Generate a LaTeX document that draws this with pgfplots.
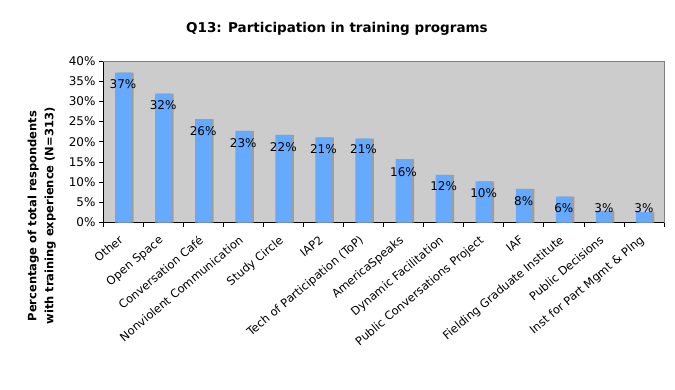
\documentclass[border=0pt]{standalone}
\usepackage{fontspec}
\setmainfont{DejaVu Sans}
\usepackage{pgfplots}
\pgfplotsset{compat=1.18}
\usepackage{pgfplotstable}

\definecolor{barblue}{RGB}{102,170,255}
\definecolor{plotbg}{RGB}{204,204,204}
\definecolor{shadowgray}{RGB}{158,158,158}
\definecolor{framegray}{RGB}{128,128,128}

\pgfplotstableread{
x y ly lab
0 37.1 34.3 37
1 31.9 29.0 32
2 25.6 22.6 26
3 22.7 19.6 23
4 21.7 18.7 22
5 21.1 18.1 21
6 20.8 18.1 21
7 15.7 12.5 16
8 11.8 9.0 12
9 10.2 7.3 10
10 8.3 5.2 8
11 6.4 3.6 6
12 2.9 3.6 3
13 2.6 3.6 3
}\data

\begin{document}
\begin{tikzpicture}
\useasboundingbox (0,0) rectangle (675pt,389pt);
\begin{axis}[
  at={(103pt,166.5pt)}, anchor=south west,
  width=561pt, height=161.5pt, scale only axis,
  xmin=-0.5, xmax=13.5, ymin=0, ymax=40,
  axis background/.style={fill=plotbg},
  axis x line*=bottom, axis y line*=left,
  axis line style={black, line width=0.8pt},
  xtick={0,...,13},
  xticklabels={Other, Open Space, Conversation Café, Nonviolent Communication, Study Circle, IAP2, Tech of Participation (ToP), AmericaSpeaks, Dynamic Facilitation, Public Conversations Project, IAF, Fielding Graduate Institute, Public Decisions, Inst for Part Mgmt \& Plng},
  major x tick style={draw=none},
  minor xtick={-0.5,0.5,...,13.5},
  minor tick length=4pt,
  ytick={0,5,...,40},
  yticklabel={\pgfmathprintnumber{\tick}\%},
  /pgf/number format/assume math mode=true,
  major tick length=4pt,
  tick align=outside,
  tick style={black, line width=0.6pt},
  xticklabel style={rotate=40, anchor=north east, font=\fontsize{11.5}{13}\selectfont, inner sep=1pt, yshift=-2pt, xshift=-8pt},
  yticklabel style={font=\fontsize{12}{13}\selectfont},
  ylabel={Percentage of total respondents\\with training experience (N=313)},
  ylabel style={at={(axis description cs:-0.109,0.04)}, anchor=center, align=center, font=\bfseries\fontsize{11.5}{17}\selectfont},
  title={Q13: Participation in training programs},
  title style={at={(axis description cs:0.417,1.161)}, anchor=center, font=\bfseries\fontsize{13.5}{16}\selectfont},
  after end axis/.code={\draw[framegray, line width=0.8pt] (rel axis cs:0,1) -- (rel axis cs:1,1) -- (rel axis cs:1,0);},
]
\addplot[ybar, bar width=16pt, bar shift=2.5pt, fill=shadowgray, draw=none] table[x=x, y=y] {\data};
\addplot[ybar, bar width=16pt, bar shift=0pt, fill=barblue, draw=none] table[x=x, y=y] {\data};
\addplot[only marks, mark=none, point meta=explicit,
  nodes near coords={\pgfmathprintnumber[fixed,precision=0]{\pgfplotspointmeta}\%},
  every node near coord/.style={anchor=center, font=\fontsize{12}{13}\selectfont, black}]
  table[x=x, y=ly, meta=lab] {\data};
\end{axis}
\end{tikzpicture}
\end{document}
